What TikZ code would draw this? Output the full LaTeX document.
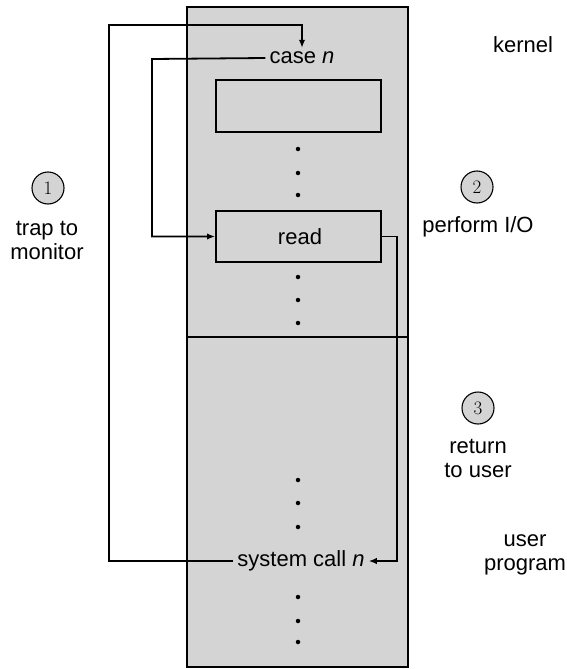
\documentclass[tikz,border=0pt]{standalone}
\usepackage{fontspec}
\setmainfont{Liberation Sans}
\newfontfamily\numfont{Latin Modern Roman}
\usetikzlibrary{arrows.meta}
\begin{document}
\begin{tikzpicture}[x=1pt,y=-1pt,
  stip/.style={fill=black!17},
  region/.style={draw, line width=2pt, stip, minimum width=221pt, minimum height=330pt, inner sep=0pt},
  subbox/.style={draw, line width=2pt, minimum width=165pt, minimum height=51pt, inner sep=0pt},
  lbl/.style={font=\fontsize{22}{24}\selectfont, inner sep=4pt},
  side/.style={font=\fontsize{22}{24}\selectfont, align=center, inner sep=0pt},
  num/.style={circle, draw, line width=1.1pt, stip, minimum size=32pt, inner sep=0pt, font=\numfont\fontsize{19}{19}\selectfont},
  conn/.style={line width=1.8pt},
  arr/.style={conn, -{Latex[length=8pt,width=6.5pt]}},
  bullet/.style={circle, fill=black, minimum size=4.5pt, inner sep=0pt}
]
\useasboundingbox (0,0) rectangle (567,669);

% main column
\node[region] (kern) at (297.5,172) {};
\node[region] (user) at (297.5,502) {};

% inner boxes
\node[subbox, minimum height=52pt] (box1) at (298.5,106) {};
\node[subbox] (readbox) at (298.5,236.5) {};

% texts inside
\node[lbl] (casen) at (302,58) {case \textit{n}};
\node[lbl] (readtxt) at (300,237) {read};
\node[lbl] (syscall) at (301,561) {system call \textit{n}};

% dots
\foreach \y [count=\i] in {149,173,195,277,300,323,480,503,527,597,621,642}
  \node[bullet] (d\i) at (298,\y) {};

% connectors
\coordinate (t1) at (109,25);
\coordinate (c2) at (152,59);
\draw[arr] (syscall.west) -| (t1) -| (casen.north);
\draw[arr] (casen.west) -- (c2) |- (readbox.west);
\draw[arr] (readbox.east) -- ++(15,0) |- (syscall.east);

% side labels
\node[num] (n1) at (48,188) {1};
\node[side] (trap) at (47,240) {trap to\\monitor};
\node[num] (n2) at (477,187) {2};
\node[side] (perf) at (478,227) {perform I/O};
\node[num] (n3) at (478,408) {3};
\node[side] (ret) at (478,458) {return\\to user};
\node[side] (kernel) at (523,45) {kernel};
\node[side] (uprog) at (525,555) {user\\program};
\end{tikzpicture}
\end{document}
